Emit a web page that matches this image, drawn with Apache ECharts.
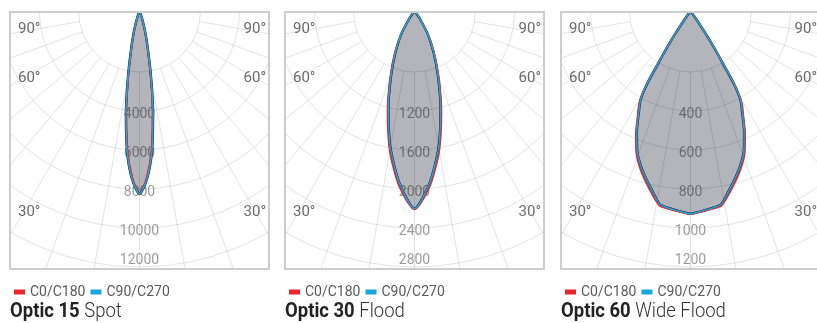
<!DOCTYPE html>
<html><head><meta charset="utf-8">
<script src="https://cdn.jsdelivr.net/npm/echarts@6/dist/echarts.min.js"></script>
<style>
html,body{margin:0;padding:0;width:817px;height:323px;overflow:hidden;background:#fff;}
.p{position:absolute;top:11px;width:261px;height:312px;}
</style></head><body>
<div id="p0" class="p" style="left:9px"></div>
<div id="p1" class="p" style="left:284px"></div>
<div id="p2" class="p" style="left:560px"></div>
<script>
// ---------- data ----------
const titlesBold  = ['Optic 15', 'Optic 30', 'Optic 60'];
const titlesLight = ['Spot', 'Flood', 'Wide Flood'];
const seriesNames = ['C0/C180', 'C90/C270'];
const angleLabels = ['90°', '60°', '30°'];

// value on the innermost ring and the step between rings, per panel
const ringStart = [2000, 800, 200];
const ringStep  = [2000, 400, 200];

// gamma angles (deg from nadir) and intensities; curve reaches the centre at the last angle
const angles15 = [0, 2.5, 5, 7.5, 10, 12.5, 15, 17.5, 20, 22.5, 25];
const c0_15    = [8250, 7380, 5950, 4000, 2060, 700, -40, -590, -885, -1065, -1128];
const c90_15   = [8250, 7520, 6150, 4210, 2250, 840, 50, -520, -855, -1035, -1128];

const angles30 = [0, 5, 10, 15, 20, 25, 30, 35, 37.5, 40];
const c0_30    = [2210, 1980, 1638, 1248, 912, 660, 458, 269, 205, 174];
const c90_30   = [2200, 1946, 1596, 1206, 876, 632, 442, 263, 204, 174];

const angles60 = [0, 3, 6, 9, 12, 15, 18, 21, 24, 27, 29, 30, 31, 32, 33, 34, 35, 36];
const c0_60    = [929, 919, 909, 899, 844, 788, 731, 665, 577, 485, 434, 392, 315, 178, 101, 20, -51, -113];
const c90_60   = [927, 916, 905, 891, 830, 774, 717, 651, 563, 471, 420, 380, 304, 171, 96, 18, -52, -113];

const panelAngles = [angles15, angles30, angles60];
const panelC0 = [c0_15, c0_30, c0_60];
const panelC90 = [c90_15, c90_30, c90_60];

// ---------- layout / style ----------
const BOX_W = 261, BOX_H = 259;
const INNER = 61, RING = 39, RINGS = 6;
const OUTER = INNER + RINGS * RING;
const RED = '#e8262d', BLUE = '#19a6df';
const GRID = 'rgba(0,0,0,0.11)';
const FONT = 'Roboto';

function toPolar(angles, vals) {
  const pts = [];
  for (let i = angles.length - 1; i >= 1; i--) pts.push([vals[i], 360 - angles[i]]);
  pts.push([vals[0], 0]);
  for (let i = 1; i < angles.length; i++) pts.push([vals[i], angles[i]]);
  return pts;
}

function build(p) {
  const chart = echarts.init(document.getElementById('p' + p), null, {renderer: 'canvas'});
  const s0 = ringStart[p], st = ringStep[p];
  const cx = BOX_W / 2;
  const angleBase = {type: 'value', min: 0, max: 360, interval: 10, startAngle: -90, clockwise: true,
    axisLine: {show: false}, axisTick: {show: false}, axisLabel: {show: false}};
  const labStyle = {color: 'rgba(0,0,0,0.4)', fontSize: 14, fontFamily: FONT};
  const graphics = [
    {type: 'rect', z: 50, silent: true, shape: {x: -5, y: BOX_H, width: BOX_W + 10, height: 100}, style: {fill: '#fff'}},
    {type: 'rect', z: 51, silent: true, shape: {x: 1, y: 1, width: BOX_W - 2, height: BOX_H - 2}, style: {fill: 'none', stroke: '#cdcdcd', lineWidth: 2}},
    {type: 'text', z: 60, x: 1, y: 301, scaleX: 0.88, silent: true,
      style: {text: '{b|' + titlesBold[p] + '} {l|' + titlesLight[p] + '}', fontSize: 21, fontFamily: FONT, fill: '#222', verticalAlign: 'middle', align: 'left',
        rich: {b: {fontSize: 21, fontFamily: FONT, fontWeight: 'bold', fill: '#222'},
               l: {fontSize: 21, fontFamily: FONT, fontWeight: 300, fill: '#333'}}}}
  ];
  const labelY = [18, 67, 201];
  angleLabels.forEach((t, i) => {
    graphics.push({type: 'text', z: 60, silent: true, x: 9, y: labelY[i], style: {text: t, fontSize: 15, fontFamily: FONT, fill: '#6a6a6a', align: 'left', verticalAlign: 'middle'}});
    graphics.push({type: 'text', z: 60, silent: true, x: BOX_W - 4, y: labelY[i], style: {text: t, fontSize: 15, fontFamily: FONT, fill: '#6a6a6a', align: 'right', verticalAlign: 'middle'}});
  });
  const c0pts = toPolar(panelAngles[p], panelC0[p]);
  const c90pts = toPolar(panelAngles[p], panelC90[p]);
  chart.setOption({
    animation: false,
    polar: [{center: [cx, 0], radius: [INNER, OUTER]}, {center: [cx, 0], radius: [0, OUTER]}],
    angleAxis: [
      Object.assign({polarIndex: 0, z: 3, splitLine: {show: true, lineStyle: {color: GRID, width: 1}}}, angleBase),
      Object.assign({polarIndex: 1, show: false, splitLine: {show: false}}, angleBase)
    ],
    radiusAxis: [
      {polarIndex: 0, type: 'value', z: 3, min: s0, max: s0 + RINGS * st, interval: st,
        axisLine: {show: false}, axisTick: {show: false},
        splitLine: {show: true, lineStyle: {color: GRID, width: 1}},
        axisLabel: Object.assign({margin: 0, align: 'center', verticalAlign: 'middle', showMinLabel: true, showMaxLabel: true,
          rich: {up: Object.assign({padding: [0, 0, 14, 0]}, labStyle), dn: Object.assign({padding: [7, 0, 0, 0]}, labStyle)},
          formatter: v => {
            const k = Math.round((v - s0) / st);
            if (k <= 0 || k >= RINGS) return '';
            return k === RINGS - 1 ? '{up|' + v + '}' : '{dn|' + v + '}';
          }}, labStyle)},
      {polarIndex: 1, type: 'value', show: false, min: s0 - st * INNER / RING, max: s0 + RINGS * st,
        splitLine: {show: false}}
    ],
    legend: {data: seriesNames, left: 0, top: 269, icon: 'rect', itemWidth: 11, itemHeight: 5, itemGap: 5,
      selectedMode: false, z: 60, textStyle: {fontSize: 14, color: '#5a5a5a', fontFamily: FONT}},
    graphic: graphics,
    series: [
      {name: 'area', type: 'line', coordinateSystem: 'polar', polarIndex: 1, data: c90pts, symbol: 'none', smooth: 0.25,
        z: 1, silent: true, lineStyle: {color: '#1b1b2b', width: 2.4}, areaStyle: {color: '#b4b5ba', opacity: 1, origin: 'start'}},
      {name: seriesNames[0], type: 'line', coordinateSystem: 'polar', polarIndex: 1, data: c0pts, symbol: 'none', smooth: 0.25,
        z: 5, color: RED, lineStyle: {color: RED, width: 1.5}},
      {name: seriesNames[1], type: 'line', coordinateSystem: 'polar', polarIndex: 1, data: c90pts, symbol: 'none', smooth: 0.25,
        z: 6, color: BLUE, lineStyle: {color: BLUE, width: 1.5}}
    ]
  });
}
[0, 1, 2].forEach(build);
</script>
</body></html>
